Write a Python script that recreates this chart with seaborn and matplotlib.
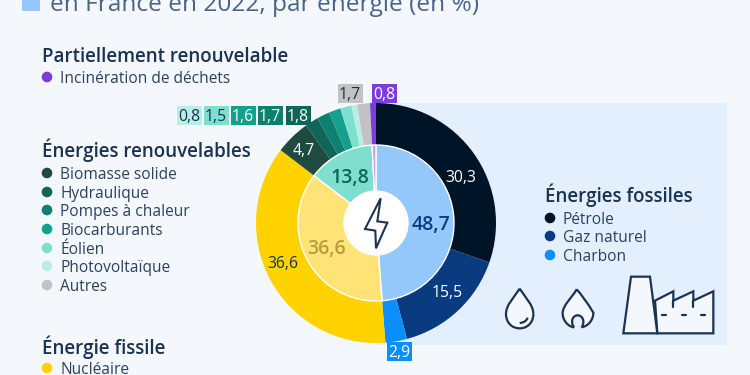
import matplotlib
matplotlib.use("Agg")
import matplotlib.pyplot as plt
from matplotlib.patches import Rectangle, Circle, PathPatch, Polygon
from matplotlib.path import Path
import seaborn as sns

# ---- data ----
outer_names = ["Pétrole", "Gaz naturel", "Charbon", "Nucléaire", "Biomasse solide", "Hydraulique",
               "Pompes à chaleur", "Biocarburants", "Éolien", "Photovoltaïque", "Autres", "Incinération de déchets"]
outer_values = [30.3, 15.5, 2.9, 36.6, 4.7, 1.8, 1.7, 1.6, 1.5, 0.8, 1.7, 0.8]
outer_colors = ["#001428", "#0A3A80", "#0A8FFF", "#FFD200", "#1E4A40", "#0F6557",
                "#0E8070", "#14A08C", "#7FDFCF", "#B8EEE5", "#C2C2C2", "#7D3CDB"]
inner_names = ["Fossiles", "Fissile", "Renouvelables", "Partiellement"]
inner_values = [48.7, 36.6, 13.8, 0.8]
inner_colors = ["#94C8FB", "#FFE377", "#7FDFCF", "#BFA3EE"]

BG = "#F4F7FC"
PANEL = "#E3EFFD"
DARK = "#1B3350"
TXT = "#2A4260"

sns.set_theme(style="white")
plt.rcParams["font.family"] = ["Open Sans", "DejaVu Sans"]

fig = plt.figure(figsize=(7.5, 3.75), dpi=100, facecolor=BG)
ax = fig.add_axes([0, 0, 1, 1])
ax.set_facecolor(BG)

CX, CY = 376, 223

ax.add_patch(Rectangle((376, -345), 351, 242, fc=PANEL, ec="none", zorder=0))
ax.add_patch(Rectangle((22, -11), 18, 16, fc="#94C8FB", ec="none", zorder=1))

ax.pie(outer_values, colors=sns.color_palette(outer_colors), startangle=90, counterclock=False,
       center=(CX, -CY), radius=120, wedgeprops=dict(width=42, linewidth=0))
ax.pie(inner_values, colors=sns.color_palette(inner_colors), startangle=90, counterclock=False,
       center=(CX, -CY), radius=78, wedgeprops=dict(width=46, edgecolor="white", linewidth=1.0))
sns.despine(ax=ax, left=True, bottom=True)
ax.set_aspect("auto")
ax.set_xlim(0, 750)
ax.set_ylim(-375, 0)
ax.set_xticks([])
ax.set_yticks([])
ax.add_patch(Circle((CX, -CY), 32, fc="white", ec="none", zorder=5))


def t(x, y, s, fontsize=11, **kw):
    kw.setdefault("ha", "left")
    kw.setdefault("color", TXT)
    kw.setdefault("zorder", 8)
    # y is the centre of the capitals; text is placed by its baseline
    return ax.text(x, -(y + fontsize * 0.5), s, va="baseline", fontsize=fontsize, **kw)


def fmt(v):
    return f"{v:.1f}".replace(".", ",")


# title
t(50, 2.5, "en France en 2022, par énergie (en %)", fontsize=17.55, color="#4A6488")

# legends
def group(x, y, head, items, ys):
    t(x, y, head, fontsize=13.5, fontweight="semibold", color=DARK)
    for name, yy in zip(items, ys):
        ax.add_patch(Circle((x + 5, -yy), 5.3, fc=outer_colors[outer_names.index(name)], ec="none", zorder=8))
        t(x + 18, yy, name, fontsize=11.2)


group(42, 55, "Partiellement renouvelable", ["Incinération de déchets"], [77])
group(42, 150, "Énergies renouvelables",
      ["Biomasse solide", "Hydraulique", "Pompes à chaleur", "Biocarburants", "Éolien", "Photovoltaïque", "Autres"],
      [173, 192, 210, 229, 248, 266, 285])
group(42, 347, "Énergie fissile", ["Nucléaire"], [368])
group(545, 195, "Énergies fossiles", ["Pétrole", "Gaz naturel", "Charbon"], [218, 236, 255])

# labels on the rings
def lab(x, y, v, color, **kw):
    t(x, y, fmt(v), ha="center", color=color, **kw)


lab(461, 176, outer_values[0], "white", fontsize=11.3)
lab(447, 291, outer_values[1], "white", fontsize=11.3)
lab(283, 262, outer_values[3], DARK, fontsize=11.3)
lab(304, 149, outer_values[4], "white", fontsize=11.3)
lab(350, 176, inner_values[2], "#0F6557", fontsize=14, fontweight="semibold")
lab(431, 223, inner_values[0], "#0A3A80", fontsize=14, fontweight="semibold")
lab(327, 247, inner_values[1], "#B59F3A", fontsize=14, fontweight="semibold")


# boxed labels
def box(x, y, v, fc, color):
    ax.add_patch(Rectangle((x - 12.5, -y - 9.5), 25, 19, fc=fc, ec="none", zorder=7))
    lab(x, y, v, color, fontsize=11.3)


box(399, 351, outer_values[2], outer_colors[2], "white")
box(384, 93, outer_values[11], outer_colors[11], "white")
box(350, 93, outer_values[10], outer_colors[10], DARK)
box(298, 115, outer_values[5], outer_colors[5], "white")
box(270, 115, outer_values[6], outer_colors[6], "white")
box(243, 115, outer_values[7], outer_colors[7], "white")
box(216, 115, outer_values[8], outer_colors[8], DARK)
box(189, 115, outer_values[9], outer_colors[9], DARK)


# icons
def z2(p):
    return (p[0] / 3 + 240, -(p[1] / 3 + 90))


def z3(p):
    return (p[0] / 3 + 480, -(p[1] / 3 + 170))


bolt = [(422, 325), (375, 417), (406, 422), (408, 475), (442, 398), (412, 394)]
ax.add_patch(Polygon([z2(p) for p in bolt], closed=True, fc="none", ec=DARK, lw=1.5, zorder=9, joinstyle="miter"))

IC = dict(fc=BG, ec=DARK, lw=1.6, zorder=6)
drop = [(119, 356), (100, 385), (78, 405), (78, 432), (78, 458), (96, 475), (119, 475), (142, 475), (160, 458),
        (160, 432), (160, 405), (138, 385), (119, 356)]
codes = [Path.MOVETO] + [Path.CURVE4] * 12
ax.add_patch(PathPatch(Path([z3(p) for p in drop], codes), **IC))
ax.add_patch(PathPatch(Path([z3(p) for p in [(119, 459), (132, 458), (140, 452), (143, 443)]],
                            [Path.MOVETO, Path.CURVE4, Path.CURVE4, Path.CURVE4]), fc="none", ec=DARK, lw=1.6, zorder=7))

flame = [(290, 358), (275, 385), (248, 405), (248, 430), (248, 452), (265, 470), (282, 472),
         (270, 455), (278, 436), (293, 436), (308, 436), (316, 455), (305, 472),
         (325, 468), (340, 450), (340, 428), (320, 395), (305, 375), (290, 358)]
codes = [Path.MOVETO] + [Path.CURVE4] * 18
ax.add_patch(PathPatch(Path([z3(p) for p in flame], codes), **IC))

tooth = [(525, 392), (580, 364), (580, 392), (640, 364), (640, 392), (700, 364), (700, 490), (532, 490)]
ax.add_patch(Polygon([z3(p) for p in tooth], closed=True, fc=BG, ec=DARK, lw=1.6, zorder=6))
ax.plot([z3(p)[0] for p in [(580, 392), (580, 410)]], [z3(p)[1] for p in [(580, 392), (580, 410)]], color=DARK, lw=1.6, zorder=7)
ax.plot([z3(p)[0] for p in [(640, 392), (640, 410)]], [z3(p)[1] for p in [(640, 392), (640, 410)]], color=DARK, lw=1.6, zorder=7)
tower = [(430, 490), (453, 320), (510, 320), (532, 490)]
ax.add_patch(Polygon([z3(p) for p in tower], closed=True, fc=BG, ec=DARK, lw=1.6, zorder=7))
for zx in (552, 611, 670):
    a, b = z3((zx - 6, 436)), z3((zx + 6, 436))
    ax.plot([a[0], b[0]], [a[1], b[1]], color=DARK, lw=1.6, zorder=7)

fig.savefig("out.png", dpi=100, facecolor=BG)
